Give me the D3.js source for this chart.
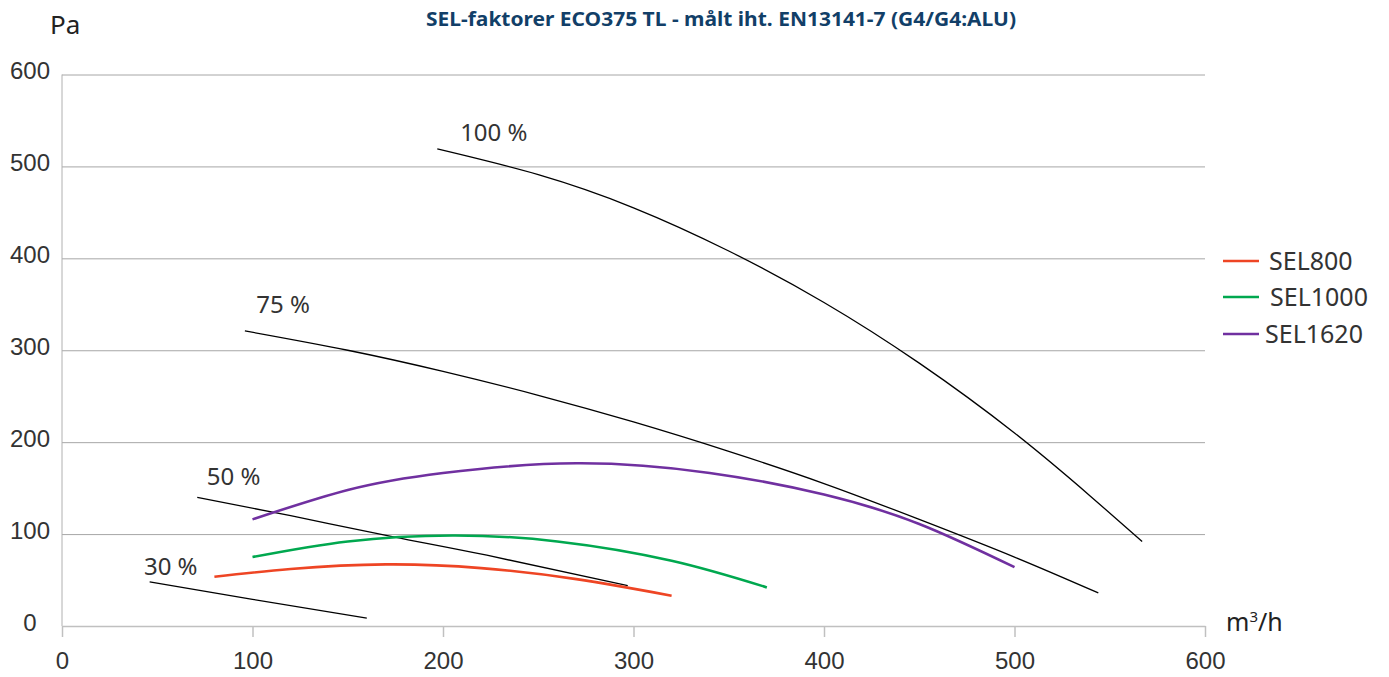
<!DOCTYPE html>
<html>
<head>
<meta charset="utf-8">
<script src="https://cdn.jsdelivr.net/npm/d3@7"></script>
<style>
  body { margin: 0; background: #fff; }
  svg { display: block; font-family: "Noto Sans", "Open Sans", sans-serif; }
</style>
</head>
<body>
<svg></svg>
<script>
// ticks
const xTicks = [0, 100, 200, 300, 400, 500, 600]
const yTicks = [0, 100, 200, 300, 400, 500, 600]

// fan curves (m3/h, Pa)
const fan100 = [[197, 519], [250, 491], [300, 455], [350, 408], [400, 352], [450, 286], [500, 210], [540, 141], [567, 92]]
const fan75 = [[96, 321], [150, 300], [200, 277], [250, 251], [300, 222], [350, 190], [400, 155], [450, 116], [500, 75], [544, 36]]
const fan50 = [[71, 140], [120, 120], [174, 97], [223, 77], [297, 44]]
const fan30 = [[46, 48], [100, 29], [160, 8.5]]
const fanLabels = ["100 %", "75 %", "50 %", "30 %"]
const fanLabelAt = [[209, 528], [102, 340], [76, 153], [43, 56]]

// SEL lines
const sel800 = [[80, 53.5], [120, 62], [170, 67], [220, 63], [270, 51], [320, 33]]
const sel1000 = [[100, 75], [150, 92], [205, 98.5], [260, 92], [320, 71], [370, 42]]
const sel1620 = [[100, 116], [150, 148], [200, 166.5], [270, 177], [340, 166.5], [400, 143], [450, 111], [500, 64]]
const selNames = ["SEL800", "SEL1000", "SEL1620"]
const selColors = ["#ee4524", "#00a84f", "#7030a0"]

let width = 1389
let height = 677
let plotLeft = 62
let plotRight = 1205
let plotTop = 74.5
let plotBottom = 626

let svg = d3.select('svg').attr('width', width).attr('height', height)

let xScale = d3.scaleLinear().domain([0, 600]).range([plotLeft, plotRight])
let yScale = d3.scaleLinear().domain([0, 600]).range([plotBottom, plotTop])

// grid + y labels
let yAxis = d3.axisLeft(yScale).tickValues(yTicks).tickSize(-(plotRight - plotLeft))
let gy = svg.append('g')
    .attr('transform', 'translate(' + plotLeft + ',0)')
    .call(yAxis)
gy.select('.domain').remove()
gy.selectAll('line').attr('stroke', '#a6a6a6').attr('stroke-width', 1)
gy.selectAll('text')
    .attr('x', -32)
    .attr('dy', 0)
    .attr('y', 4)
    .attr('text-anchor', 'middle')
    .attr('fill', '#333')
    .style('font-size', '24px')

// left axis line
svg.append('line')
    .attr('x1', plotLeft).attr('x2', plotLeft)
    .attr('y1', yScale(600)).attr('y2', yScale(0))
    .attr('stroke', '#b0b0b0').attr('stroke-width', 1)

// x axis
let xAxis = d3.axisBottom(xScale).tickValues(xTicks).tickSize(11).tickSizeOuter(0)
let gx = svg.append('g')
    .attr('transform', 'translate(0,' + plotBottom + ')')
    .call(xAxis)
gx.select('.domain').attr('stroke', '#c0c0c0').attr('stroke-width', 1.5)
gx.selectAll('line').attr('stroke', '#c0c0c0').attr('stroke-width', 1.5)
gx.selectAll('text')
    .attr('y', 43)
    .attr('dy', 0)
    .attr('fill', '#333')
    .style('font-size', '24px')

let line = d3.line()
    .x(d => xScale(d[0]))
    .y(d => yScale(d[1]))
    .curve(d3.curveNatural)

// fan curves
let fans = [fan100, fan75, fan50, fan30]
svg.selectAll('path.fan')
    .data(fans)
    .enter()
    .append('path')
    .attr('class', 'fan')
    .attr('d', line)
    .attr('fill', 'none')
    .attr('stroke', '#000')
    .attr('stroke-width', 1.3)

svg.selectAll('text.fanlabel')
    .data(fanLabels)
    .enter()
    .append('text')
    .attr('class', 'fanlabel')
    .attr('x', (d, i) => xScale(fanLabelAt[i][0]))
    .attr('y', (d, i) => yScale(fanLabelAt[i][1]))
    .attr('fill', '#333')
    .style('font-size', '24px')
    .text(d => d)

// SEL curves
let sels = [sel800, sel1000, sel1620]
svg.selectAll('path.sel')
    .data(sels)
    .enter()
    .append('path')
    .attr('class', 'sel')
    .attr('d', line)
    .attr('fill', 'none')
    .attr('stroke', (d, i) => selColors[i])
    .attr('stroke-width', 2.6)

// legend
let legendY = [261, 297, 334]
let legendTextX = [1269, 1270, 1265]
let lg = svg.append('g')
lg.selectAll('line')
    .data(selNames)
    .enter()
    .append('line')
    .attr('x1', 1223).attr('x2', 1259)
    .attr('y1', (d, i) => legendY[i]).attr('y2', (d, i) => legendY[i])
    .attr('stroke', (d, i) => selColors[i])
    .attr('stroke-width', 2.6)
lg.selectAll('text')
    .data(selNames)
    .enter()
    .append('text')
    .attr('x', (d, i) => legendTextX[i])
    .attr('y', (d, i) => legendY[i] + 9)
    .attr('fill', '#333')
    .style('font-size', '25px')
    .text(d => d)

// axis titles
svg.append('text')
    .attr('x', 50).attr('y', 34)
    .attr('fill', '#222')
    .style('font-size', '26px')
    .text('Pa')

let unit = svg.append('text')
    .attr('x', 1226).attr('y', 631)
    .attr('fill', '#222')
    .style('font-size', '25px')
unit.append('tspan').text('m')
unit.append('tspan').attr('dy', -9).style('font-size', '15px').text('3')
unit.append('tspan').attr('dy', 9).text('/h')

// title
svg.append('text')
    .attr('x', 721).attr('y', 26)
    .attr('text-anchor', 'middle')
    .attr('fill', '#123f68')
    .style('font-size', '19px')
    .style('font-weight', 'bold')
    .attr('textLength', 590)
    .attr('lengthAdjust', 'spacingAndGlyphs')
    .text('SEL-faktorer ECO375 TL - målt iht. EN13141-7 (G4/G4:ALU)')
</script>
</body>
</html>
